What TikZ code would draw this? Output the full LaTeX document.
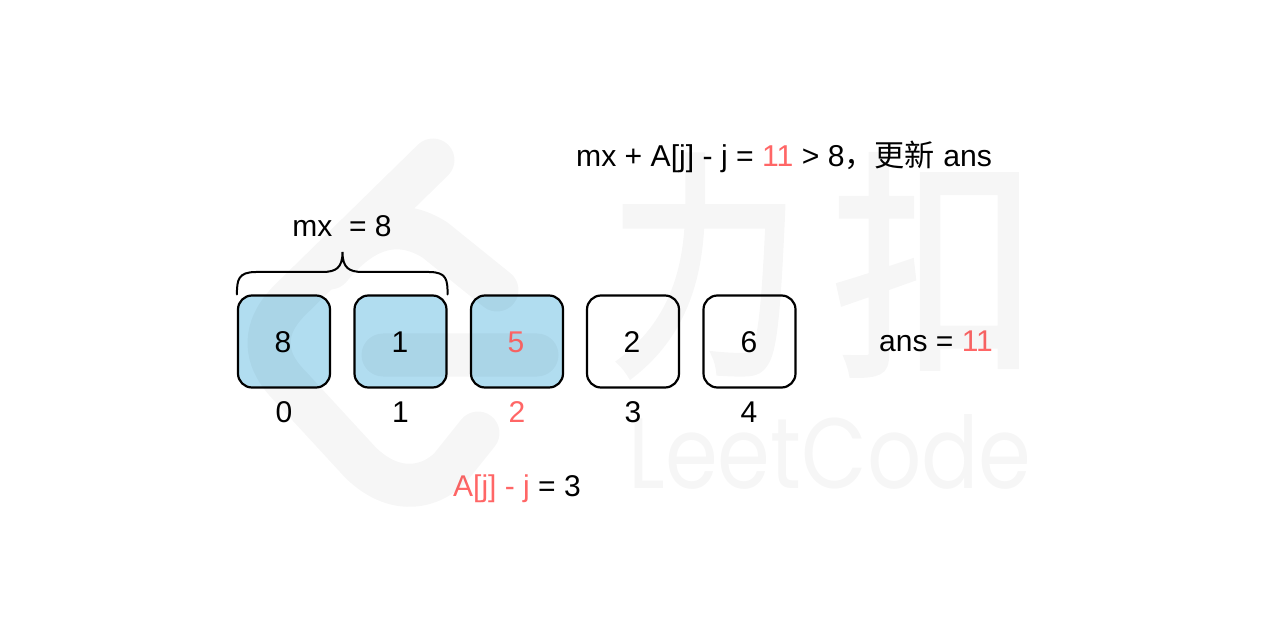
\documentclass[tikz,border=0pt]{standalone}
\usepackage{fontspec}
\setmainfont{Liberation Sans}
\newfontfamily\cjk{Noto Sans CJK SC}
\newfontfamily\cjkwm[FakeBold=2.5]{Noto Sans CJK SC}
\newfontfamily\wmfont{Poppins}
\definecolor{cellblue}{HTML}{B1DDF0}
\definecolor{hot}{HTML}{FF6666}
\tikzset{
  cell/.style={draw=black,line width=2.2pt,rounded corners=14pt,minimum width=92pt,minimum height=92pt,inner sep=0pt,anchor=center},
  filled/.style={cell,fill=cellblue},
  lbl/.style={inner sep=0pt,anchor=base,font=\fontsize{30}{30}\selectfont},
  bracestroke/.style={line width=2pt,line cap=round},
  wm/.style={line width=43pt,line cap=round,line join=round,draw=black},
  wmcn/.style={inner sep=0pt,anchor=base,text=black,transform shape,font=\cjkwm\fontsize{228}{228}\selectfont},
  wmen/.style={inner sep=0pt,anchor=base,text=black,transform shape,font=\wmfont\fontsize{100}{100}\selectfont},
}
\begin{document}
\begin{tikzpicture}[x=1pt,y=-1pt]
\useasboundingbox (0,0) rectangle (1280,644);
\fill[white] (0,0) rectangle (1280,644);
% cells
\node[filled] (c0) at (284,341.5) {};
\node[filled] (c1) at (400.5,341.5) {};
\node[filled] (c2) at (517,341.5) {};
\node[cell] (c3) at (633,341.5) {};
\node[cell] (c4) at (749.5,341.5) {};
% values
\node[lbl] (v0) at (283,352.5) {8};
\node[lbl] (v1) at (400,352.5) {1};
\node[lbl,text=hot] (v2) at (516,352.5) {5};
\node[lbl] (v3) at (632,352.5) {2};
\node[lbl] (v4) at (749,352.5) {6};
% indices
\node[lbl] (i0) at (284,422) {0};
\node[lbl] (i1) at (400.5,422) {1};
\node[lbl,text=hot] (i2) at (517,422) {2};
\node[lbl] (i3) at (633,422) {3};
\node[lbl] (i4) at (749,422) {4};
% brace
\coordinate (bl) at (c0.north west);
\coordinate (br) at (c1.north east);
\coordinate (btip) at (342.5,252);
\draw[bracestroke] (bl) .. controls (237,280) and (238,272) .. (256,272) -- (322,272)
  .. controls (336,272) and (342.5,268) .. (btip)
  .. controls (342.5,268) and (349,272) .. (363,272) -- (429,272)
  .. controls (447,272) and (447.5,280) .. (br);
% texts
\node[lbl] (mx) at (342,236.5) {mx\hspace{8.3pt} = 8};
\node[lbl,anchor=base west,font=\fontsize{30.15}{30}\selectfont] (top) at (576,167) {mx + A[j] - j = \textcolor{hot}{11} > 8{\cjk ，更新} ans};
\node[lbl,anchor=base west] (ans) at (879,352) {ans = \textcolor{hot}{11}};
\node[lbl,anchor=base west] (aj) at (453,496) {\textcolor{hot}{A[j] - j} = 3};
% watermark
\begin{scope}[transparency group,opacity=0.035]
  \draw[wm] (433,160) -- (290,300) .. controls (262,328) and (262,358) .. (290,386)
     -- (360,462) .. controls (390,492) and (425,492) .. (450,468) -- (478,433);
  \draw[wm] (330,268) .. controls (365,225) and (400,218) .. (435,240) -- (497,290);
  \draw[wm] (383,355) -- (537,355);
  \node[wmcn,xscale=.84,yscale=1.05] (wmli) at (705,356) {力};
  \node[wmcn,xscale=.9,yscale=1.05] (wmkou) at (935,356) {扣};
  \node[wmen,xscale=.85] (wmword) at (830,488) {LeetCode};
\end{scope}
\end{tikzpicture}
\end{document}
